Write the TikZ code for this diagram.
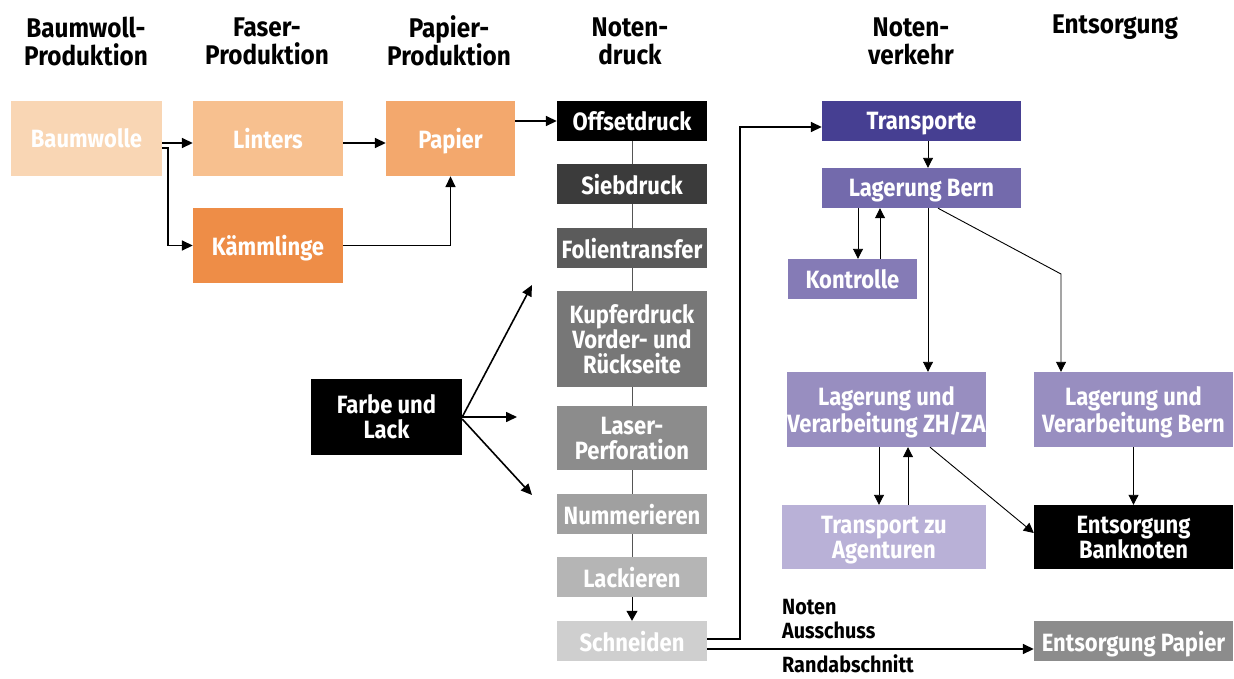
\documentclass[tikz,border=0pt]{standalone}
\usepackage{fontspec}
\setmainfont{Fira Sans}[FakeStretch=0.9]
\newfontfamily\boxfont{Fira Sans}[FakeStretch=0.88]
\usetikzlibrary{arrows.meta,calc}
\definecolor{cBw}{HTML}{F9D6B4}
\definecolor{cLin}{HTML}{F7C08F}
\definecolor{cPap}{HTML}{F3A86D}
\definecolor{cKam}{HTML}{EE8D47}
\definecolor{cSieb}{HTML}{3B3B3B}
\definecolor{cFol}{HTML}{5B5B5B}
\definecolor{cKup}{HTML}{777777}
\definecolor{cLas}{HTML}{8C8C8C}
\definecolor{cNum}{HTML}{A0A0A0}
\definecolor{cLack}{HTML}{B5B5B5}
\definecolor{cSchn}{HTML}{CFCFCF}
\definecolor{cTr}{HTML}{463F92}
\definecolor{cLb}{HTML}{736AAC}
\definecolor{cKon}{HTML}{857BB6}
\definecolor{cLv}{HTML}{988EC0}
\definecolor{cTa}{HTML}{B9B1D7}
\definecolor{cLine}{HTML}{555555}
\tikzset{
  box/.style={draw=none, inner sep=0pt, text=white, align=center, text depth=0pt,
    font=\boxfont\fontsize{25}{25}\selectfont\bfseries},
  head/.style={inner sep=0pt, align=center, text=black,
    font=\fontsize{27}{28}\selectfont\bfseries},
  lbl/.style={inner sep=0pt, align=left, text=black, anchor=base west,
    font=\fontsize{22}{24}\selectfont\bfseries},
  arr/.style={line width=1.6pt, -{Triangle[length=11pt,width=10pt]}},
  tarr/.style={line width=0.9pt, -{Triangle[length=10pt,width=10pt]}},
  gline/.style={line width=1pt, draw=cLine},
}
\begin{document}
\begin{tikzpicture}[x=1pt,y=-1pt]
\useasboundingbox (0,0) rectangle (1234,678);
% headers
\node[head] (h1) at (86,41) {Baumwoll-\\Produktion};
\node[head] (h2) at (267,41) {Faser-\\Produktion};
\node[head] (h3) at (449,41) {Papier-\\Produktion};
\node[head] (h4) at (630,41) {Noten-\\druck};
\node[head] (h5) at (911,41) {Noten-\\verkehr};
\node[head] (h6) at (1115,27) {Entsorgung};
% production
\node[box, fill=cBw, minimum width=151pt, minimum height=75pt] (bw) at (86.5,138.5) {Baumwolle};
\node[box, fill=cLin, minimum width=150pt, minimum height=75pt] (lin) at (268,138.5) {Linters};
\node[box, fill=cPap, minimum width=129pt, minimum height=75pt] (pap) at (450.5,138.5) {Papier};
\node[box, fill=cKam, minimum width=150pt, minimum height=75pt] (kam) at (268,245.5) {Kämmlinge};
% Notendruck
\node[box, fill=black, minimum width=150pt, minimum height=40pt] (off) at (632,121) {Offsetdruck};
\node[box, fill=cSieb, minimum width=150pt, minimum height=40pt] (sieb) at (632,184) {Siebdruck};
\node[box, fill=cFol, minimum width=150pt, minimum height=40pt] (fol) at (632,248) {Folientransfer};
\node[box, fill=cKup, minimum width=150pt, minimum height=96pt] (kup) at (632,339) {Kupferdruck\\Vorder- und\\Rückseite};
\node[box, fill=cLas, minimum width=150pt, minimum height=64pt] (las) at (632,438) {Laser-\\Perforation};
\node[box, fill=cNum, minimum width=150pt, minimum height=40pt] (num) at (632,514) {Nummerieren};
\node[box, fill=cLack, minimum width=150pt, minimum height=40pt] (lack) at (632,577) {Lackieren};
\node[box, fill=cSchn, minimum width=150pt, minimum height=40pt] (schn) at (632,641) {Schneiden};
\node[box, fill=black, minimum width=151pt, minimum height=76pt] (farbe) at (386.5,417) {Farbe und\\Lack};
% Notenverkehr
\node[box, fill=cTr, minimum width=199pt, minimum height=40pt] (tr) at (921.5,121) {Transporte};
\node[box, fill=cLb, minimum width=199pt, minimum height=40pt] (lb) at (921.5,188) {Lagerung Bern};
\node[box, fill=cKon, minimum width=129pt, minimum height=40pt] (kon) at (852.5,279) {Kontrolle};
\node[box, fill=cLv, minimum width=199pt, minimum height=75pt] (zh) at (886.5,409.5) {Lagerung und\\Verarbeitung ZH/ZA};
\node[box, fill=cLv, minimum width=199pt, minimum height=75pt] (lvb) at (1133.5,409.5) {Lagerung und\\Verarbeitung Bern};
\node[box, fill=cTa, minimum width=204pt, minimum height=64pt] (ta) at (884,537) {Transport zu\\Agenturen};
\node[box, fill=black, minimum width=199pt, minimum height=64pt] (eb) at (1133.5,537) {Entsorgung\\Banknoten};
\node[box, fill=cLas, minimum width=199pt, minimum height=40pt] (ep) at (1133.5,641) {Entsorgung Papier};
% labels
\node[lbl] (l1) at (782,638) {Noten\\Ausschuss};
\node[lbl] (l2) at (782,672) {Randabschnitt};
% production connectors
\draw[arr] ([yshift=-4.5pt]bw.east) -- ([yshift=-4.5pt]lin.west);
\draw[arr] ([yshift=-9.5pt]bw.east) -- ++(6pt,0) |- (kam.west);
\draw[arr] ([yshift=-4.5pt]lin.east) -- ([yshift=-4.5pt]pap.west);
\draw[arr] (pap.east |- off.west) -- (off.west);
\draw[arr] (kam.east) -| (pap.south);
% Notendruck chain
\draw[gline] (off.south) -- (sieb.north);
\draw[gline] (sieb.south) -- (fol.north);
\draw[gline] (fol.south) -- (kup.north);
\draw[gline] (kup.south) -- (las.north);
\draw[gline] (las.south) -- (num.north);
\draw[gline] (num.south) -- (lack.north);
\draw[line width=1pt, -{Triangle[length=10pt,width=11pt]}] (lack.south) -- (schn.north);
% Farbe und Lack
\coordinate (fu) at (532,285);
\coordinate (fm) at (517,417);
\coordinate (fd) at (532,495);
\draw[arr] (farbe.east) -- (fu);
\draw[arr] (farbe.east) -- (fm);
\draw[arr] ([yshift=-2pt]farbe.east) -- (fd);
% Schneiden outputs
\draw[arr] ([yshift=2pt]schn.east) -- ++(33pt,0) |- ([yshift=-6pt]tr.west);
\draw[arr] ([yshift=-8pt]schn.east) -- ([yshift=-8pt]ep.west);
% Notenverkehr connectors
\draw[tarr] ([xshift=6.5pt]tr.south) -- ([xshift=6.5pt]lb.north);
\draw[tarr] ([xshift=-63.5pt]lb.south) -- ([xshift=5.5pt]kon.north);
\draw[tarr] ([xshift=27.5pt]kon.north) -- ([xshift=-41.5pt]lb.south);
\draw[tarr] ([xshift=6.5pt]lb.south) -- ([xshift=41.5pt]zh.north);
\coordinate (bend) at (1061,274);
\draw[tarr] ([xshift=16.5pt]lb.south) -- (bend) -- ([xshift=-72.5pt]lvb.north);
\draw[tarr] ([xshift=-7.5pt]zh.south) -- ([xshift=-5pt]ta.north);
\draw[tarr] ([xshift=24pt]ta.north) -- ([xshift=21.5pt]zh.south);
\draw[tarr] ([xshift=43.5pt]zh.south) -- ([yshift=4pt]eb.west);
\draw[tarr] (lvb.south) -- (eb.north);
\end{tikzpicture}
\end{document}
